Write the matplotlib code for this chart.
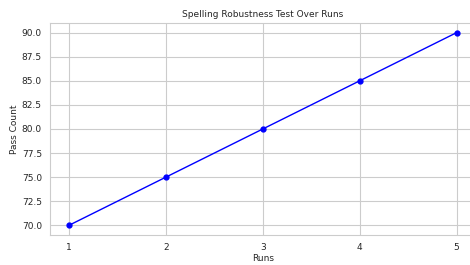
import matplotlib
matplotlib.use('Agg')
import matplotlib.pyplot as plt
import seaborn as sns

# data
runs = [1, 2, 3, 4, 5]
pass_count = [70, 75, 80, 85, 90]

sns.set_style('whitegrid')
plt.rcParams['font.family'] = ['DejaVu Sans']

fig = plt.figure(figsize=(4.7, 2.65), dpi=100)
# right edge of the axes runs past the figure, as in the reference
ax = fig.add_axes([49.5 / 470, 30 / 265, 426.5 / 470, 212 / 265])

ax.plot(runs, pass_count, marker='o', color='blue', linewidth=1, markersize=3.5)
ax.set_xticks(runs)
ax.set_title('Spelling Robustness Test Over Runs', fontsize=6.5, pad=4)
ax.set_xlabel('Runs', fontsize=6.5, labelpad=2)
ax.set_ylabel('Pass Count', fontsize=6.5, labelpad=2)
ax.tick_params(labelsize=6.5, pad=2)
for s in ax.spines.values():
    s.set_linewidth(0.8)

fig.savefig('out.png', dpi=100)
